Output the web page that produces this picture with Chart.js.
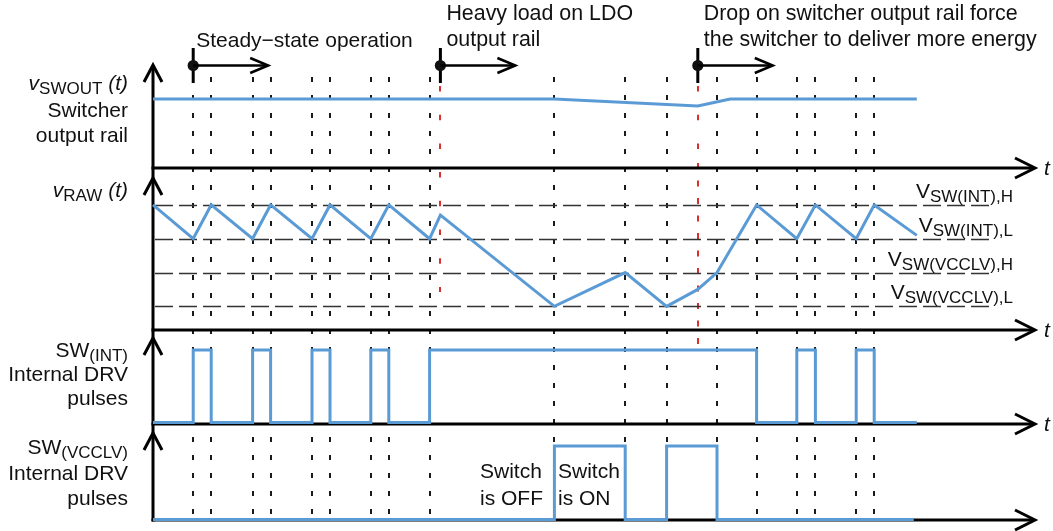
<!DOCTYPE html>
<html>
<head>
<meta charset="utf-8">
<style>
  html, body { margin: 0; padding: 0; background: #ffffff; }
  #wrap { width: 1053px; height: 531px; position: relative; }
</style>
<script src="https://cdn.jsdelivr.net/npm/chart.js@4.4.0/dist/chart.umd.min.js"></script>
</head>
<body>
<div id="wrap"><canvas id="c" width="1053" height="531"></canvas></div>
<script>
// ---------------- DATA (time in arbitrary units, t = 0 at the vertical axis) ----------------
const guideTimes = [6.7, 9.7, 16.6, 19.6, 26.5, 29.5, 36.3, 39.3, 46.1, 66.9, 78.7, 85.6, 94.0, 100.6, 107.3, 110.4, 117.2, 120.2];
const eventTimes = [6.7, 47.9, 90.8];
const eventLabels = [
  ["Steady\u2212state operation"],
  ["Heavy load on LDO", "output rail"],
  ["Drop on switcher output rail force", "the switcher to deliver more energy"]
];
const redGuideTimes = [47.9, 90.8];

// Row 1: switcher output rail (normalised)
const swoutTimes  = [0, 66.9, 90.8, 96.2, 127.3];
const swoutValues = [1.0, 1.0, 0.9, 1.0, 1.0];

// Row 2: v_RAW (arbitrary volts)
const rawTimes  = [0, 6.7, 9.7, 16.6, 19.6, 26.5, 29.5, 36.3, 39.3, 46.1, 47.9, 66.9, 78.7, 85.6, 90.8, 94.0, 100.6, 107.3, 110.4, 117.2, 120.2, 127.3];
const rawValues = [3.7, 2.7, 3.7, 2.7, 3.7, 2.7, 3.7, 2.7, 3.7, 2.7, 3.4, 0.7, 1.7, 0.7, 1.2, 1.7, 3.7, 2.7, 3.7, 2.7, 3.7, 2.8];
const thresholdValues = [3.7, 2.7, 1.7, 0.7];
const thresholdSubs   = ["SW(INT),H", "SW(INT),L", "SW(VCCLV),H", "SW(VCCLV),L"];

// Row 3: SW(INT) pulses (state holds until next time)
const swIntTimes  = [0, 6.7, 9.7, 16.6, 19.6, 26.5, 29.5, 36.3, 39.3, 46.1, 100.6, 107.3, 110.4, 117.2, 120.2, 127.3];
const swIntStates = [0, 1, 0, 1, 0, 1, 0, 1, 0, 1, 0, 1, 0, 1, 0, 0];

// Row 4: SW(VCCLV) pulses
const swVcclvTimes  = [0, 66.9, 78.7, 85.6, 94.0, 126.8];
const swVcclvStates = [0, 1, 0, 1, 0, 0];

// ---------------- LAYOUT / STYLE ----------------
const W = 1053, H = 531;
const AXIS_X = 153, PX_PER_T = 6;
const ROWS = [
  { id: 'y1', zero: 168,   ppu: 69,   top: 65,  axis: 168 },
  { id: 'y2', zero: 330,   ppu: 33.8, top: 178, axis: 330 },
  { id: 'y3', zero: 422.5, ppu: 72.5, top: 338, axis: 424 },
  { id: 'y4', zero: 519.5, ppu: 73.5, top: 433, axis: 520 }
];
const BLUE = '#5b9bd5';
const RED = '#d9302f';
const FONT = '"Liberation Sans", Arial, Helvetica, sans-serif';
const FS = 21, FS_SUB = 17;

function rowScale(r) {
  return { type: 'linear', display: false, min: (r.zero - H) / r.ppu, max: r.zero / r.ppu };
}
function pts(ts, vs) { return ts.map((t, i) => ({ x: t, y: vs[i] })); }

function drawRich(ctx, parts, xRight, baseline) {
  const fontOf = p => (p.i ? 'italic ' : '') + (p.sub ? FS_SUB : FS) + 'px ' + FONT;
  let total = 0;
  parts.forEach(p => { ctx.font = fontOf(p); p.w = ctx.measureText(p.t).width; total += p.w; });
  let x = xRight - total;
  ctx.textAlign = 'left';
  parts.forEach(p => {
    ctx.font = fontOf(p);
    ctx.fillText(p.t, x, baseline + (p.sub ? 4 : 0));
    x += p.w;
  });
}

function dashedV(ctx, x, y0, y1, dash) {
  ctx.setLineDash(dash);
  ctx.beginPath(); ctx.moveTo(x, y0); ctx.lineTo(x, y1); ctx.stroke();
}

const diagramPlugin = {
  id: 'diagram',
  beforeDatasetsDraw(chart) {
    const ctx = chart.ctx, xs = chart.scales.x;
    ctx.save();
    // vertical black dashed guides
    ctx.strokeStyle = '#1a1a1a'; ctx.lineWidth = 2;
    guideTimes.forEach(t => {
      const x = Math.round(xs.getPixelForValue(t));
      dashedV(ctx, x, 77, 521, [5, 13]);
    });
    // red dashed guides
    ctx.strokeStyle = RED; ctx.lineWidth = 2;
    const r1 = Math.round(xs.getPixelForValue(redGuideTimes[0]));
    dashedV(ctx, r1, 86, 292, [5.5, 23.2]);
    const r2 = Math.round(xs.getPixelForValue(redGuideTimes[1]));
    dashedV(ctx, r2, 86, 160, [5.5, 23.2]);
    dashedV(ctx, r2, 163, 344, [6, 11.5]);
    // threshold lines row 2
    const y2 = chart.scales.y2;
    ctx.strokeStyle = '#333'; ctx.lineWidth = 1.5; ctx.setLineDash([18, 6]);
    thresholdValues.forEach(v => {
      const y = Math.round(y2.getPixelForValue(v)) + 0.5;
      ctx.beginPath(); ctx.moveTo(AXIS_X + 2, y); ctx.lineTo(993, y); ctx.stroke();
    });
    ctx.setLineDash([]);
    // axes
    ctx.strokeStyle = '#000'; ctx.lineWidth = 3; ctx.lineJoin = 'miter'; ctx.lineCap = 'butt';
    ctx.beginPath(); ctx.moveTo(AXIS_X, 66); ctx.lineTo(AXIS_X, 521.5); ctx.stroke();
    ROWS.forEach(r => {
      ctx.beginPath(); ctx.moveTo(AXIS_X - 9, r.top + 17); ctx.lineTo(AXIS_X, r.top); ctx.lineTo(AXIS_X + 9, r.top + 17); ctx.stroke();
      ctx.beginPath(); ctx.moveTo(AXIS_X - 1.5, r.axis); ctx.lineTo(1034, r.axis); ctx.stroke();
      ctx.beginPath(); ctx.moveTo(1015, r.axis - 10); ctx.lineTo(1035, r.axis); ctx.lineTo(1015, r.axis + 10); ctx.stroke();
    });
    ctx.restore();
  },
  afterDatasetsDraw(chart) {
    const ctx = chart.ctx, xs = chart.scales.x;
    ctx.save();
    ctx.fillStyle = '#111'; ctx.strokeStyle = '#000';
    // event markers with arrows
    eventTimes.forEach((t, i) => {
      const x = xs.getPixelForValue(t);
      ctx.lineWidth = 3;
      ctx.beginPath(); ctx.moveTo(x, 48); ctx.lineTo(x, 83); ctx.stroke();
      ctx.beginPath(); ctx.arc(x, 65.5, 5.6, 0, Math.PI * 2); ctx.fill();
      ctx.lineWidth = 2.5;
      ctx.beginPath(); ctx.moveTo(x, 65.5); ctx.lineTo(x + 74, 65.5); ctx.stroke();
      ctx.beginPath(); ctx.moveTo(x + 57, 58); ctx.lineTo(x + 75, 65.5); ctx.lineTo(x + 57, 73); ctx.stroke();
      ctx.font = FS + 'px ' + FONT; ctx.textAlign = 'left';
      const lines = eventLabels[i];
      if (lines.length === 1) {
        ctx.fillText(lines[0], x + 3, 47);
      } else {
        ctx.font = '21.4px ' + FONT;
        ctx.fillText(lines[0], x + 6, 20);
        ctx.fillText(lines[1], x + 6, 46);
      }
    });
    // x-axis t labels
    ctx.font = 'italic ' + FS + 'px ' + FONT; ctx.textAlign = 'left';
    ROWS.slice(0, 3).forEach(r => ctx.fillText('t', 1044, r.axis + 7));
    // left row labels
    const RX = 128;
    drawRich(ctx, [{ t: 'v', i: 1 }, { t: 'SWOUT', sub: 1 }, { t: ' ' }, { t: '(t)', i: 1 }], RX, 90);
    drawRich(ctx, [{ t: 'Switcher' }], RX, 117);
    drawRich(ctx, [{ t: 'output rail' }], RX, 142);
    drawRich(ctx, [{ t: 'v', i: 1 }, { t: 'RAW', sub: 1 }, { t: ' ' }, { t: '(t)', i: 1 }], RX, 197);
    drawRich(ctx, [{ t: 'SW' }, { t: '(INT)', sub: 1 }], RX, 357);
    drawRich(ctx, [{ t: 'Internal DRV' }], RX, 381);
    drawRich(ctx, [{ t: 'pulses' }], RX, 405);
    drawRich(ctx, [{ t: 'SW' }, { t: '(VCCLV)', sub: 1 }], RX, 454);
    drawRich(ctx, [{ t: 'Internal DRV' }], RX, 480);
    drawRich(ctx, [{ t: 'pulses' }], RX, 505);
    // threshold labels
    const y2 = chart.scales.y2;
    thresholdValues.forEach((v, i) => {
      const y = y2.getPixelForValue(v);
      drawRich(ctx, [{ t: 'V' }, { t: thresholdSubs[i], sub: 1 }], 1013, y - 7);
    });
    // switch annotations
    ctx.font = FS + 'px ' + FONT; ctx.textAlign = 'left';
    ctx.fillText('Switch', 480, 478); ctx.fillText('is OFF', 480, 505);
    ctx.fillText('Switch', 558, 478); ctx.fillText('is ON', 558, 505);
    ctx.restore();
  }
};

const common = { showLine: true, pointRadius: 0, borderColor: BLUE, borderWidth: 3, tension: 0, fill: false, xAxisID: 'x', borderJoinStyle: 'miter' };

new Chart(document.getElementById('c'), {
  type: 'scatter',
  data: {
    datasets: [
      Object.assign({ label: 'vSWOUT', data: pts(swoutTimes, swoutValues), yAxisID: 'y1' }, common),
      Object.assign({ label: 'vRAW', data: pts(rawTimes, rawValues), yAxisID: 'y2' }, common),
      Object.assign({ label: 'SW(INT)', data: pts(swIntTimes, swIntStates), yAxisID: 'y3', stepped: 'before' }, common),
      Object.assign({ label: 'SW(VCCLV)', data: pts(swVcclvTimes, swVcclvStates), yAxisID: 'y4', stepped: 'before' }, common)
    ]
  },
  options: {
    responsive: false,
    animation: false,
    devicePixelRatio: 1,
    layout: { padding: 0, autoPadding: false },
    plugins: { legend: { display: false }, tooltip: { enabled: false }, title: { display: false } },
    events: [],
    scales: {
      x: { type: 'linear', display: false, min: -AXIS_X / PX_PER_T, max: (W - AXIS_X) / PX_PER_T },
      y1: rowScale(ROWS[0]),
      y2: rowScale(ROWS[1]),
      y3: rowScale(ROWS[2]),
      y4: rowScale(ROWS[3])
    }
  },
  plugins: [diagramPlugin]
});
</script>
</body>
</html>
